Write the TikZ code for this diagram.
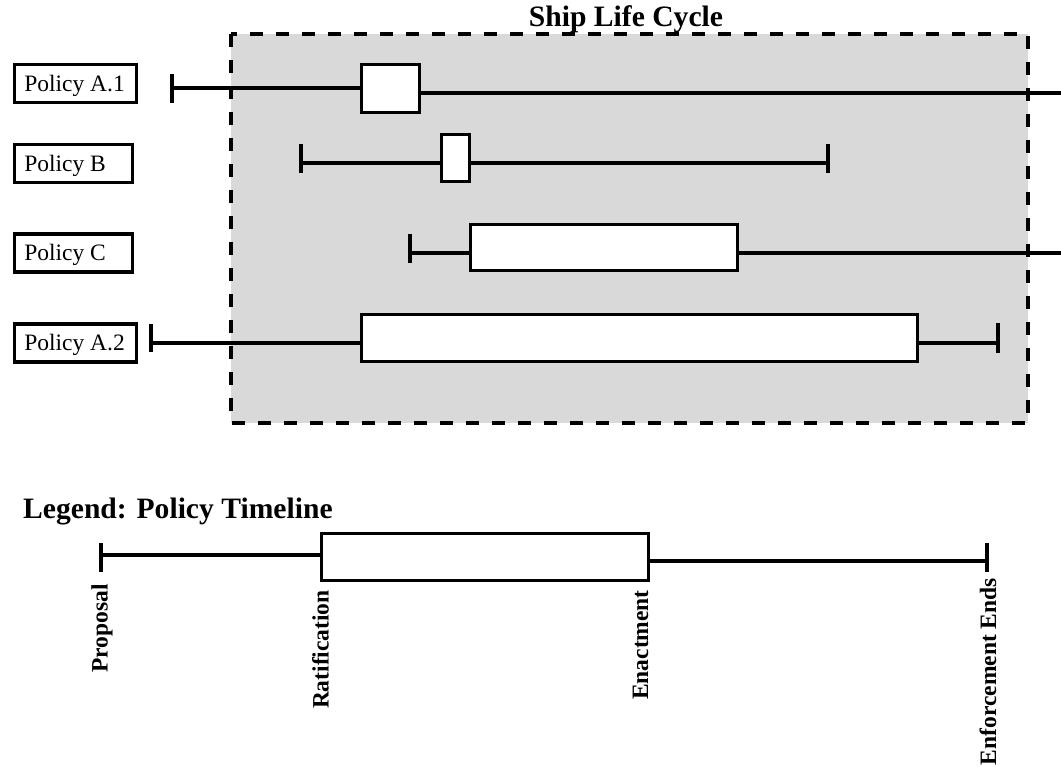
\documentclass[tikz,border=0pt]{standalone}
\usepackage{fontspec}
\setmainfont{Liberation Serif}
\begin{document}
\begin{tikzpicture}[x=1pt,y=-1pt,
  lab/.style={draw,line width=3.5pt,anchor=west,inner xsep=10pt,inner ysep=0pt,
              minimum height=38pt,text height=16pt,text depth=0pt,font=\fontsize{23.5}{26}\selectfont},
  bar/.style={draw,fill=white,line width=3.5pt,inner sep=0pt},
  conn/.style={line width=3.3pt},
  tickmark/.style={line width=3.8pt},
  phase/.style={rotate=90,anchor=east,inner sep=0pt,font=\bfseries\fontsize{23.5}{26}\selectfont},
  heading/.style={inner sep=0pt,font=\bfseries\fontsize{29.6}{32}\selectfont}]
\useasboundingbox (0,0) rectangle (1061,767);

% ship life cycle frame
\fill[gray!30] (231,34) rectangle (1028,423);
\draw[line width=4pt,dash pattern=on 13pt off 13pt] (231,34) rectangle (1028,423);
\node[heading,anchor=base] (title) at (626,27) {Ship Life Cycle};

% policy labels
\node[lab] (pA1) at (12.5,83.5) {\makebox[102pt][l]{Policy A.1}};
\node[lab] (pB)  at (12.5,163.5) {\makebox[98pt][l]{Policy B}};
\node[lab] (pC)  at (12.5,253) {\makebox[98pt][l]{Policy C}};
\node[lab] (pA2) at (12.5,343) {\makebox[102pt][l]{Policy A.2}};

% policy A.1
\coordinate (a1s) at (172,88);
\coordinate (a1e) at (1061,93);
\node[bar,minimum width=58pt,minimum height=48pt] (a1box) at (390.5,88.5) {};
\draw[tickmark] (172,74) -- (172,103);
\draw[conn] (a1s) -- (a1s -| a1box.west);
\draw[conn] (a1e -| a1box.east) -- (a1e);

% policy B
\coordinate (bs) at (301,163);
\coordinate (be) at (828,163);
\node[bar,minimum width=28pt,minimum height=47pt] (bbox) at (455.5,158) {};
\draw[tickmark] (301,144) -- (301,173);
\draw[tickmark] (828,144) -- (828,173);
\draw[conn] (bs) -- (bs -| bbox.west);
\draw[conn] (be -| bbox.east) -- (be);

% policy C
\coordinate (cs) at (410,253);
\coordinate (ce) at (1061,253);
\node[bar,minimum width=267pt,minimum height=46pt] (cbox) at (604,247.5) {};
\draw[tickmark] (410,234) -- (410,263);
\draw[conn] (cs) -- (cs -| cbox.west);
\draw[conn] (ce -| cbox.east) -- (ce);

% policy A.2
\coordinate (a2s) at (151,343);
\coordinate (a2e) at (998,343);
\node[bar,minimum width=556pt,minimum height=47pt] (a2box) at (639.5,338) {};
\draw[tickmark] (151,324) -- (151,352);
\draw[tickmark] (998,323) -- (998,353);
\draw[conn] (a2s) -- (a2s -| a2box.west);
\draw[conn] (a2e -| a2box.east) -- (a2e);

% legend
\node[heading,anchor=base west] (legend) at (23,518) {Legend: Policy Timeline};
\coordinate (ls) at (101,555);
\coordinate (le) at (987,561);
\node[bar,minimum width=327pt,minimum height=47pt] (lbox) at (485,557) {};
\draw[tickmark] (101,543) -- (101,572);
\draw[tickmark] (987,543) -- (987,572);
\draw[conn] (ls) -- (ls -| lbox.west);
\draw[conn] (le -| lbox.east) -- (le);

\node[phase] (proposal) at (102,584) {Proposal};
\node[phase] (ratif) at (320.5,590) {Ratification};
\node[phase] (enact) at (640.5,590) {Enactment};
\node[phase] (enfend) at (988,578) {Enforcement Ends};
\end{tikzpicture}
\end{document}
